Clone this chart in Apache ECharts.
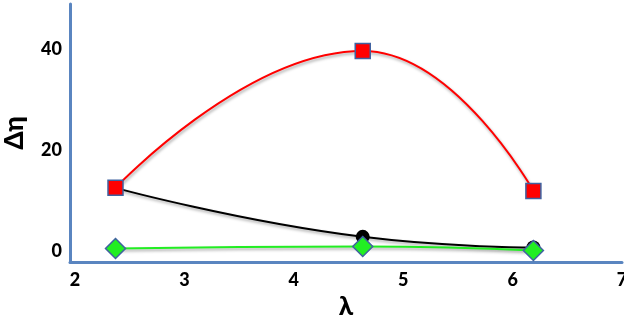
<!DOCTYPE html>
<html>
<head>
<meta charset="utf-8">
<script src="https://cdn.jsdelivr.net/npm/echarts@6/dist/echarts.min.js"></script>
<style>html,body{margin:0;padding:0;background:#fff}#c{width:624px;height:320px}</style>
</head>
<body>
<div id="c"></div>
<script>
const xTicks = [2, 3, 4, 5, 6, 7];
const yTicks = [0, 20, 40];
const lambda = [2.37, 4.63, 6.19];
const redVals = [12.5, 39.6, 11.9];
const blackVals = [12.5, 2.8, 0.7];
const greenVals = [0.5, 0.9, 0.1];

const pairs = (xs, ys) => xs.map((x, i) => [x, ys[i]]);
const axisBlue = '#5a85c0';
const markBorder = '#3f62a0';
const font = 'Lato, "Open Sans", sans-serif';
const shadow = {shadowColor: 'rgba(0,0,0,0.35)', shadowBlur: 3, shadowOffsetX: 1, shadowOffsetY: 2};

const chart = echarts.init(document.getElementById('c'), null, {renderer: 'canvas'});
chart.setOption({
  animation: false,
  grid: {left: 70, right: 2, top: 4, bottom: 58, containLabel: false, outerBoundsMode: 'none'},
  xAxis: {
    type: 'value', min: 1.954, max: 7,
    name: 'λ', nameLocation: 'middle', nameGap: 32,
    nameTextStyle: {fontFamily: font, fontWeight: 900, fontSize: 26, color: '#000'},
    axisLine: {show: true, onZero: false, lineStyle: {color: axisBlue, width: 3}},
    axisTick: {show: false},
    splitLine: {show: false},
    axisLabel: {customValues: xTicks, fontFamily: font, fontWeight: 900, fontSize: 18, color: '#000', margin: 9}
  },
  yAxis: {
    type: 'value', min: -2.18, max: 48.9,
    name: 'Δη', nameLocation: 'middle', nameGap: 42, nameRotate: 90,
    nameTextStyle: {fontFamily: font, fontWeight: 900, fontSize: 26, color: '#000'},
    axisLine: {show: true, onZero: false, lineStyle: {color: axisBlue, width: 3}},
    axisTick: {show: false},
    splitLine: {show: false},
    axisLabel: {customValues: yTicks, fontFamily: font, fontWeight: 900, fontSize: 18, color: '#000', margin: 8}
  },
  series: [
    {
      type: 'line', data: pairs(lambda, blackVals), smooth: true,
      symbol: 'circle', symbolSize: 14,
      itemStyle: {color: '#000'},
      lineStyle: Object.assign({color: '#000', width: 2}, shadow)
    },
    {
      type: 'line', data: pairs(lambda, greenVals), smooth: true,
      symbol: 'diamond', symbolSize: 20,
      itemStyle: {color: '#22ee22', borderColor: markBorder, borderWidth: 1.5},
      lineStyle: Object.assign({color: '#22ee22', width: 2}, shadow)
    },
    {
      type: 'line', data: pairs(lambda, redVals), smooth: true,
      symbol: 'rect', symbolSize: 15,
      itemStyle: {color: '#ff0000', borderColor: markBorder, borderWidth: 1.5},
      lineStyle: Object.assign({color: '#ff0000', width: 2}, shadow)
    }
  ]
});
</script>
</body>
</html>
